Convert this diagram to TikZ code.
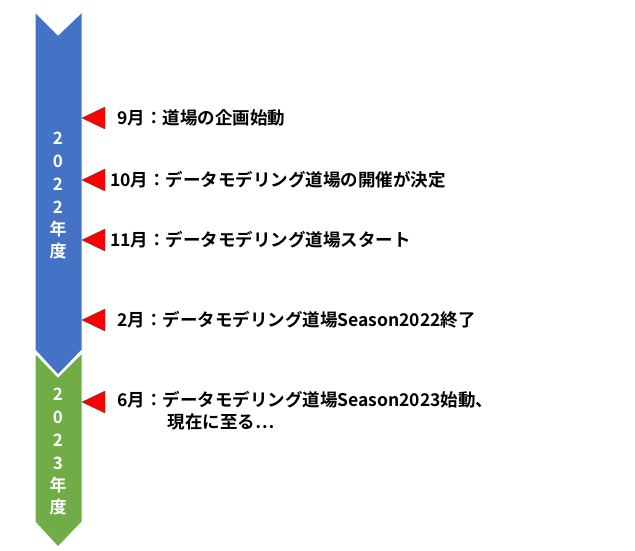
\documentclass[tikz,border=0pt]{standalone}
\usepackage{fontspec}
\newfontfamily\jp{Noto Sans CJK JP}[BoldFont={* Bold}]
\begin{document}
\begin{tikzpicture}[x=1pt,y=-1pt,
  tri/.style={fill=red,draw=black!70,line width=0.4pt},
  lbl/.style={anchor=west,font=\jp\bfseries\fontsize{17.5}{22}\selectfont,inner sep=0pt},
  vt/.style={font=\jp\bfseries\fontsize{17}{18}\selectfont,text=white,align=center}]
\useasboundingbox (0,0) rectangle (635,550);
\fill[fill={rgb,255:red,68;green,114;blue,196},draw=white,line width=1pt] (35,12) -- (58,35) -- (82,12) -- (82,350) -- (58,375) -- (35,350) -- cycle;
\fill[fill={rgb,255:red,112;green,173;blue,71},draw=white,line width=1pt] (35,353) -- (58,377) -- (82,353) -- (82,522) -- (58,547) -- (35,522) -- cycle;
\node[vt] (y1) at (58,196) {2\\[5pt]0\\[5pt]2\\[5pt]2\\[4pt]年\\[4pt]度};
\node[vt] (y2) at (58,452) {2\\[5pt]0\\[5pt]2\\[5pt]3\\[4pt]年\\[4pt]度};
\foreach \y in {118,180,240,320,402}{
  \filldraw[tri] (82,\y) -- (105,\y-11) -- (105,\y+11) -- cycle;}
\node[lbl] (a) at (117,118) {9月：道場の企画始動};
\node[lbl] (b) at (110,180) {10月：データモデリング道場の開催が決定};
\node[lbl] (c) at (110,240) {11月：データモデリング道場スタート};
\node[lbl] (d) at (117,320) {2月：データモデリング道場Season2022終了};
\node[lbl,align=left,anchor=north west] (e) at (117,391) {6月：データモデリング道場Season2023始動、\\\hspace*{2.9em}現在に至る…};
\end{tikzpicture}
\end{document}
